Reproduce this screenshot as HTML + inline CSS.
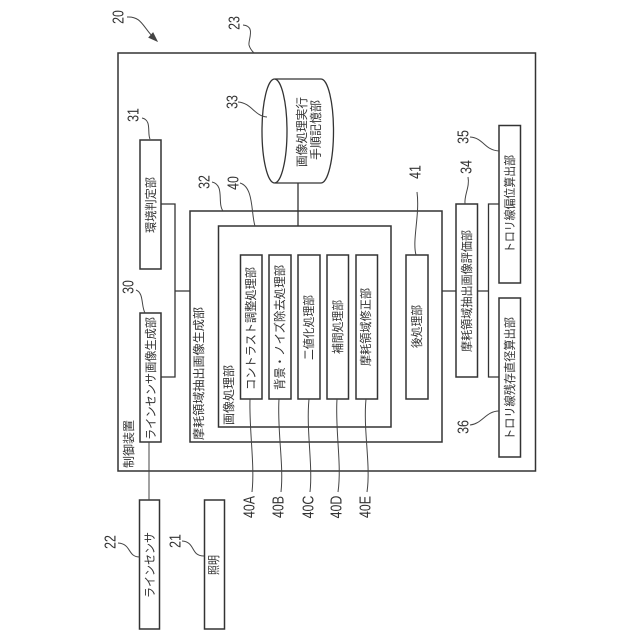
<!DOCTYPE html>
<html>
<head>
<meta charset="utf-8">
<style>
html,body{margin:0;padding:0;background:#fff;width:640px;height:640px;overflow:hidden}
svg{display:block}
text{font-family:"Liberation Sans","Noto Sans CJK JP",sans-serif;fill:#333}
.j{font-size:12px}
.n{font-size:15.5px;text-anchor:middle;dominant-baseline:central}
rect,.b{fill:none;stroke:#333;stroke-width:1.5}
.l{fill:none;stroke:#444;stroke-width:1}
.c{fill:none;stroke:#333;stroke-width:1.3}
</style>
</head>
<body>
<svg width="640" height="640" viewBox="0 0 640 640" xmlns="http://www.w3.org/2000/svg">
<rect x="118" y="53" width="417.5" height="418"/>
<rect x="140" y="140" width="21" height="129"/>
<rect x="140" y="313" width="21" height="129"/>
<rect x="190" y="211" width="252" height="231"/>
<rect x="218.500" y="226" width="172.500" height="201"/>
<rect x="240.500" y="255" width="21.500" height="144" stroke-width="2"/>
<rect x="269" y="255" width="22" height="144" stroke-width="2"/>
<rect x="298" y="255" width="22" height="144" stroke-width="2"/>
<rect x="327" y="255" width="21.500" height="144" stroke-width="2"/>
<rect x="356" y="255" width="21.500" height="144" stroke-width="2"/>
<rect x="406" y="255" width="22" height="144" stroke-width="2"/>
<rect x="456" y="204" width="21.500" height="173"/>
<rect x="499" y="125.500" width="21.500" height="157.500" stroke-width="2"/>
<rect x="499" y="298" width="21.500" height="159" stroke-width="2"/>
<rect x="139.500" y="500" width="20" height="129"/>
<rect x="204.500" y="500" width="20" height="129"/>

<path class="c" d="M161 204H175V377H161M175 291H190M442 291H456M477.500 291H488.500M499 204H488.500V377H499M298 183V226"/>
<path class="l" d="M149 442V500"/>

<path class="c" d="M275 79H321A12.500 52 0 0 1 321 183H275"/>
<ellipse class="c" cx="274.500" cy="131" rx="12.500" ry="52"/>

<g class="l">
<path d="M127 17C142 16 143 28 155 39"/>
<path d="M157 41L149 37.500L153 33Z" fill="#444"/>
<path d="M243 25C256 26 248 40 249 45C250 49 252 51 254 53"/>
<path d="M238 102C252 103 254 116 267 117"/>
<path d="M142 118C152 120 147 133 150 139"/>
<path d="M212 182C225 185 217 203 223 211"/>
<path d="M240 183C254 187 251 214 255 226"/>
<path d="M136 290C144 293 141 306 145 313"/>
<path d="M470 137C484 138 484 150 499 151"/>
<path d="M468 177C470 187 464 195 465 204"/>
<path d="M417 192C420 215 412 240 416 255"/>
<path d="M470 425C482 424 486 411 499 411"/>
<path d="M250 399C249 430 255 465 252 492"/>
<path d="M279 399C277 430 284 465 281 492"/>
<path d="M309 399C306 430 313 465 310 492"/>
<path d="M337 399C335 430 342 465 338 492"/>
<path d="M366 399C363 430 371 465 367 492"/>
<path d="M118 543C132 544 127 557 140 557"/>
<path d="M182 541C196 542 190 556 204 556"/>
</g>

<text class="j" transform="translate(133,468) rotate(-90)" textLength="48" lengthAdjust="spacingAndGlyphs">制御装置</text>
<text class="j" transform="translate(155,440) rotate(-90)" textLength="123" lengthAdjust="spacingAndGlyphs">ラインセンサ画像生成部</text>
<text class="j" transform="translate(155,233) rotate(-90)" textLength="56" lengthAdjust="spacingAndGlyphs">環境判定部</text>
<text class="j" transform="translate(203,440) rotate(-90)" textLength="133" lengthAdjust="spacingAndGlyphs">摩耗領域抽出画像生成部</text>
<text class="j" transform="translate(233,425) rotate(-90)" textLength="60" lengthAdjust="spacingAndGlyphs">画像処理部</text>
<text class="j" transform="translate(255,390) rotate(-90)" textLength="123" lengthAdjust="spacingAndGlyphs">コントラスト調整処理部</text>
<text class="j" transform="translate(284,390) rotate(-90)" textLength="125" lengthAdjust="spacingAndGlyphs">背景・ノイズ除去処理部</text>
<text class="j" transform="translate(313,360) rotate(-90)" textLength="65" lengthAdjust="spacingAndGlyphs">二値化処理部</text>
<text class="j" transform="translate(342,354) rotate(-90)" textLength="54" lengthAdjust="spacingAndGlyphs">補間処理部</text>
<text class="j" transform="translate(370,366) rotate(-90)" textLength="78" lengthAdjust="spacingAndGlyphs">摩耗領域修正部</text>
<text class="j" transform="translate(421,348) rotate(-90)" textLength="43" lengthAdjust="spacingAndGlyphs">後処理部</text>
<text class="j" transform="translate(471,352) rotate(-90)" textLength="122" lengthAdjust="spacingAndGlyphs">摩耗領域抽出画像評価部</text>
<text class="j" transform="translate(514,253) rotate(-90)" textLength="98" lengthAdjust="spacingAndGlyphs">トロリ線偏位算出部</text>
<text class="j" transform="translate(514,440) rotate(-90)" textLength="123" lengthAdjust="spacingAndGlyphs">トロリ線残存直径算出部</text>
<text class="j" transform="translate(306,167) rotate(-90)" textLength="70" lengthAdjust="spacingAndGlyphs">画像処理実行</text>
<text class="j" transform="translate(320,160) rotate(-90)" textLength="60" lengthAdjust="spacingAndGlyphs">手順記憶部</text>
<text class="j" transform="translate(154,598) rotate(-90)" textLength="66" lengthAdjust="spacingAndGlyphs">ラインセンサ</text>
<text class="j" transform="translate(218,575) rotate(-90)" textLength="20" lengthAdjust="spacingAndGlyphs">照明</text>

<text class="n" transform="translate(118,17) rotate(-90) scale(.8,1)">20</text>
<text class="n" transform="translate(234,23) rotate(-90) scale(.8,1)">23</text>
<text class="n" transform="translate(232,102) rotate(-90) scale(.8,1)">33</text>
<text class="n" transform="translate(133,115) rotate(-90) scale(.8,1)">31</text>
<text class="n" transform="translate(204,182) rotate(-90) scale(.8,1)">32</text>
<text class="n" transform="translate(233,183) rotate(-90) scale(.8,1)">40</text>
<text class="n" transform="translate(128,287) rotate(-90) scale(.8,1)">30</text>
<text class="n" transform="translate(463,137) rotate(-90) scale(.8,1)">35</text>
<text class="n" transform="translate(466,167) rotate(-90) scale(.8,1)">34</text>
<text class="n" transform="translate(415,172) rotate(-90) scale(.8,1)">41</text>
<text class="n" transform="translate(463,427) rotate(-90) scale(.8,1)">36</text>
<text class="n" transform="translate(249,507) rotate(-90) scale(.8,1)">40A</text>
<text class="n" transform="translate(278,507) rotate(-90) scale(.8,1)">40B</text>
<text class="n" transform="translate(308,507) rotate(-90) scale(.8,1)">40C</text>
<text class="n" transform="translate(336,507) rotate(-90) scale(.8,1)">40D</text>
<text class="n" transform="translate(365,507) rotate(-90) scale(.8,1)">40E</text>
<text class="n" transform="translate(110,542) rotate(-90) scale(.8,1)">22</text>
<text class="n" transform="translate(175,541) rotate(-90) scale(.8,1)">21</text>
</svg>
</body>
</html>
